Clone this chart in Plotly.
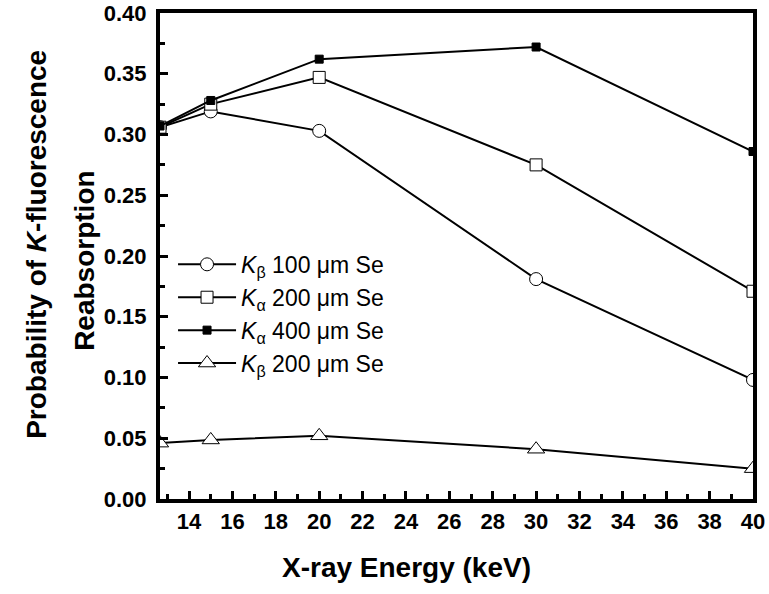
import plotly.graph_objects as go

energy = [12.66, 15, 20, 30, 40]
kb_100 = [0.306, 0.319, 0.303, 0.181, 0.098]
ka_200 = [0.306, 0.325, 0.347, 0.275, 0.171]
ka_400 = [0.307, 0.328, 0.362, 0.372, 0.286]
kb_200 = [0.046, 0.0486, 0.052, 0.041, 0.025]

names = ["<i>K</i><sub>β</sub> 100 μm Se",
         "<i>K</i><sub>α</sub> 200 μm Se",
         "<i>K</i><sub>α</sub> 400 μm Se",
         "<i>K</i><sub>β</sub> 200 μm Se"]
series = [kb_100, ka_200, ka_400, kb_200]
symbols = ["circle", "square", "square", "triangle-up"]
fills = ["white", "white", "black", "white"]
sizes = [13, 12, 8, 15]

x_title = "<b>X-ray Energy (keV)</b>"
y_title_1 = "<b>Probability of <i>K</i>-fluorescence</b>"
y_title_2 = "<b>Reabsorption</b>"

fig = go.Figure()
for nm, ys, sym, fc, sz in zip(names, series, symbols, fills, sizes):
    fig.add_trace(go.Scatter(
        x=energy, y=ys, name=nm, mode="lines+markers",
        line=dict(color="black", width=2),
        marker=dict(symbol=sym, size=sz, color=fc,
                    line=dict(color="black", width=1)),
    ))

font_family = "Arial, Liberation Sans, sans-serif"
title_font = dict(size=28, family=font_family, color="black")
fig.update_layout(
    width=769, height=594,
    margin=dict(l=160, r=16, t=13, b=95, autoexpand=False),
    paper_bgcolor="white", plot_bgcolor="white",
    font=dict(family=font_family, color="black"),
    showlegend=True,
    legend=dict(x=0.022, y=0.527, xanchor="left", yanchor="top",
                bgcolor="rgba(0,0,0,0)", itemwidth=58, tracegroupgap=0,
                font=dict(size=23, family=font_family, color="black")),
    annotations=[
        dict(text=x_title, xref="paper", yref="paper", x=0.415, y=0,
             xanchor="center", yanchor="middle", yshift=-68,
             showarrow=False, font=title_font),
        dict(text=y_title_1, xref="paper", yref="paper", x=0, y=0.523,
             xanchor="center", yanchor="middle", xshift=-123, textangle=-90,
             showarrow=False, font=title_font),
        dict(text=y_title_2, xref="paper", yref="paper", x=0, y=0.49,
             xanchor="center", yanchor="middle", xshift=-75, textangle=-90,
             showarrow=False, font=title_font),
    ],
)
fig.update_xaxes(
    range=[12.66, 40], tickmode="array",
    tickvals=list(range(14, 41, 2)),
    ticks="inside", ticklen=8, tickwidth=3, tickcolor="black",
    minor=dict(ticks="inside", ticklen=5, tickwidth=3, tickcolor="black",
               dtick=1, tick0=0),
    showline=True, linewidth=4, linecolor="black", mirror=True,
    showgrid=False, zeroline=False, automargin=False,
    tickfont=dict(size=22, family=font_family, color="black", weight="bold"),
)
fig.update_yaxes(
    range=[0, 0.40], tickmode="array",
    tickvals=[0, 0.05, 0.10, 0.15, 0.20, 0.25, 0.30, 0.35, 0.40],
    ticktext=["0.00", "0.05", "0.10", "0.15", "0.20", "0.25", "0.30", "0.35", "0.40"],
    ticks="inside", ticklen=8, tickwidth=3, tickcolor="black",
    minor=dict(ticks="inside", ticklen=5, tickwidth=3, tickcolor="black",
               dtick=0.025, tick0=0),
    showline=True, linewidth=4, linecolor="black", mirror=True,
    showgrid=False, zeroline=False, automargin=False, ticklabelstandoff=5,
    tickfont=dict(size=22, family=font_family, color="black", weight="bold"),
)

fig.write_html("out.html")
